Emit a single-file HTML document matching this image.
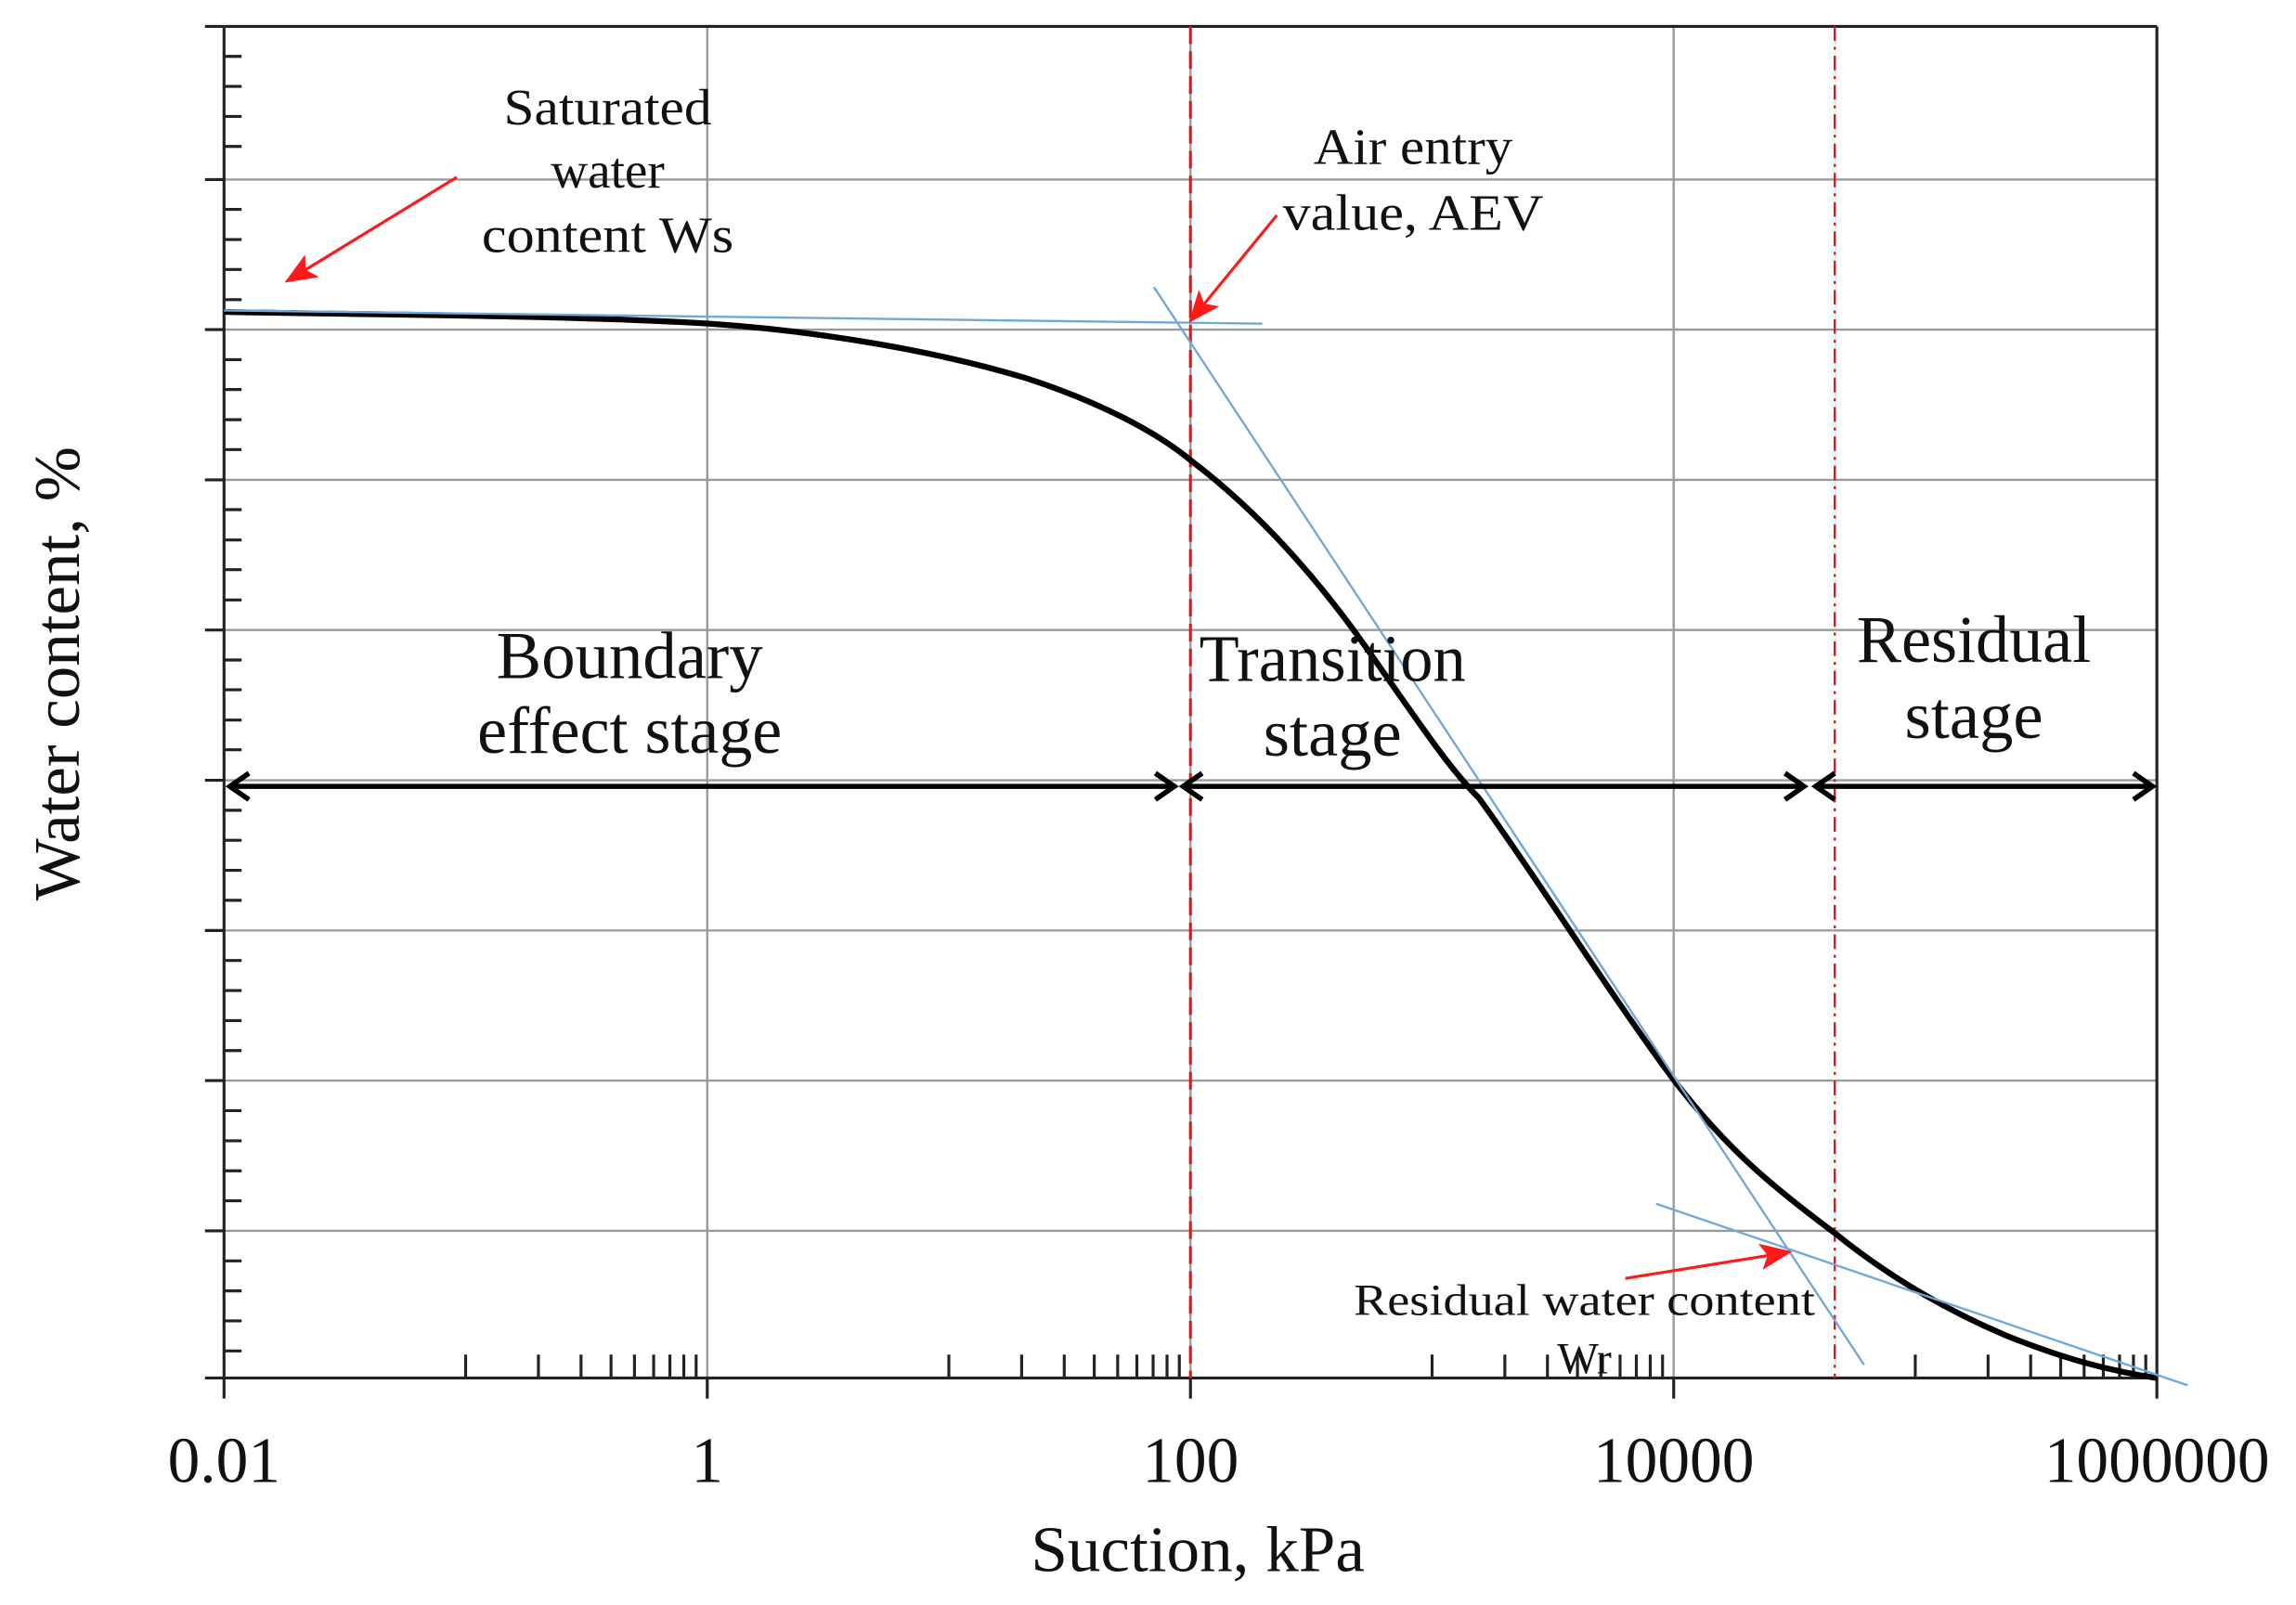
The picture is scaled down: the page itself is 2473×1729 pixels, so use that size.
<!DOCTYPE html>
<html><head><meta charset="utf-8"><style>html,body{margin:0;padding:0;background:#fff}svg{display:block}</style></head>
<body>
<svg width="2473" height="1729" viewBox="0 0 1568 1096" preserveAspectRatio="none" xmlns="http://www.w3.org/2000/svg" font-family="Liberation Serif, serif">
<defs>
<marker id="ra" markerWidth="22" markerHeight="18" refX="20" refY="9" orient="auto" markerUnits="userSpaceOnUse" viewBox="0 0 22 18"><path d="M0,0 L22,9 L0,18 L5,9 z" fill="#ff1a1a"/></marker>
</defs>
<g stroke="#9a9a9a" stroke-width="1.5">
<line x1="153" y1="122.6" x2="1473" y2="122.6"/><line x1="153" y1="225.1" x2="1473" y2="225.1"/><line x1="153" y1="327.7" x2="1473" y2="327.7"/><line x1="153" y1="430.2" x2="1473" y2="430.2"/><line x1="153" y1="532.8" x2="1473" y2="532.8"/><line x1="153" y1="635.4" x2="1473" y2="635.4"/><line x1="153" y1="737.9" x2="1473" y2="737.9"/><line x1="153" y1="840.5" x2="1473" y2="840.5"/>
<line x1="483" y1="18" x2="483" y2="941"/><line x1="813" y1="18" x2="813" y2="941"/><line x1="1143" y1="18" x2="1143" y2="941"/>
</g>
<g stroke="#222" stroke-width="2">
<line x1="153" y1="18" x2="1473" y2="18"/><line x1="1473" y1="18" x2="1473" y2="941"/>
<line x1="153" y1="18" x2="153" y2="941"/><line x1="140" y1="941" x2="1473" y2="941"/>
<path d="M140,18H153 M153,38.5H165 M153,59H165 M153,79.5H165 M153,100H165 M140,122.6H153 M153,143H165 M153,163.6H165 M153,184H165 M153,204.6H165 M140,225.1H153 M153,245.6H165 M153,266H165 M153,286.6H165 M153,307H165 M140,327.7H153 M153,348H165 M153,368.7H165 M153,389H165 M153,409.7H165 M140,430.2H153 M153,450.7H165 M153,471H165 M153,491.7H165 M153,512H165 M140,532.8H153 M153,553.3H165 M153,573.8H165 M153,594.3H165 M153,614.8H165 M140,635.4H153 M153,655.9H165 M153,676.4H165 M153,696.9H165 M153,717.4H165 M140,737.9H153 M153,758.4H165 M153,779H165 M153,799.5H165 M153,820H165 M140,840.5H153 M153,861H165 M153,881.5H165 M153,902H165 M153,922.5H165"/>
<path d="M153,941V955 M483,941V955 M813,941V955 M1143,941V955 M1473,941V955"/>
<path d="M318,941v-16 M367.7,941v-16 M396.8,941v-16 M417.3,941v-16 M433.3,941v-16 M446.4,941v-16 M457.5,941v-16 M467,941v-16 M475.4,941v-16
M648,941v-16 M697.7,941v-16 M726.8,941v-16 M747.3,941v-16 M763.3,941v-16 M776.4,941v-16 M787.5,941v-16 M797,941v-16 M805.4,941v-16
M978,941v-16 M1027.7,941v-16 M1056.8,941v-16 M1077.3,941v-16 M1093.3,941v-16 M1106.4,941v-16 M1117.5,941v-16 M1127,941v-16 M1135.4,941v-16
M1308,941v-16 M1357.7,941v-16 M1386.8,941v-16 M1407.3,941v-16 M1423.3,941v-16 M1436.4,941v-16 M1447.5,941v-16 M1457,941v-16 M1465.4,941v-16"/>
</g>
<line x1="813" y1="18" x2="813" y2="941" stroke="#e8141c" stroke-width="2" stroke-dasharray="12,5"/>
<line x1="1253" y1="18" x2="1253" y2="941" stroke="#e8141c" stroke-width="1.5" stroke-dasharray="10,4,2,4"/>
<path d="M153,213 C250,215 380,215 484,221 C560,226 640,240 700,258 C750,274 790,295 814,315 C860,350 900,395 935,445 C970,495 990,525 1010,545 C1050,600 1100,680 1145,740 C1180,785 1210,810 1253,842 C1290,872 1330,895 1370,912 C1410,928 1440,936 1473,941" fill="none" stroke="#000" stroke-width="4" stroke-linejoin="round"/>
<g stroke="#6fa8dc" stroke-width="1.5">
<line x1="153" y1="212" x2="862" y2="221"/>
<line x1="788" y1="196" x2="1273" y2="932"/>
<line x1="1131" y1="822" x2="1494" y2="946"/>
</g>
<g stroke="#ff1a1a" stroke-width="2" fill="none">
<line x1="312" y1="121" x2="196" y2="192" marker-end="url(#ra)"/>
<line x1="872" y1="147" x2="813" y2="219" marker-end="url(#ra)"/>
<line x1="1110" y1="873" x2="1222" y2="855" marker-end="url(#ra)"/>
</g>
<g stroke="#000" stroke-width="3.5" fill="none">
<line x1="158" y1="537" x2="800" y2="537"/>
<line x1="809" y1="537" x2="1230" y2="537"/>
<line x1="1241" y1="537" x2="1468" y2="537"/>
<path d="M170,528 L157,537 L170,546 M789,528 L802,537 L789,546 M821,528 L808,537 L821,546 M1219,528 L1232,537 L1219,546 M1253,528 L1240,537 L1253,546 M1457,528 L1470,537 L1457,546"/>
</g>
<g fill="#111" text-anchor="middle">
<text x="415" y="85" font-size="35" textLength="142" lengthAdjust="spacingAndGlyphs">Saturated</text>
<text x="415" y="128" font-size="35">water</text>
<text x="415" y="172" font-size="35" textLength="172" lengthAdjust="spacingAndGlyphs">content Ws</text>
<text x="965" y="112" font-size="35" textLength="136" lengthAdjust="spacingAndGlyphs">Air entry</text>
<text x="965" y="157" font-size="35" textLength="178" lengthAdjust="spacingAndGlyphs">value, AEV</text>
<text x="430" y="463" font-size="46" textLength="182" lengthAdjust="spacingAndGlyphs">Boundary</text>
<text x="430" y="514" font-size="46" textLength="208" lengthAdjust="spacingAndGlyphs">effect stage</text>
<text x="910" y="465" font-size="46" textLength="182" lengthAdjust="spacingAndGlyphs">Transition</text>
<text x="910" y="516" font-size="46">stage</text>
<text x="1348" y="452" font-size="46" textLength="160" lengthAdjust="spacingAndGlyphs">Residual</text>
<text x="1348" y="504" font-size="46">stage</text>
<text x="1082" y="898" font-size="30" textLength="315" lengthAdjust="spacingAndGlyphs">Residual water content</text>
<text x="1082" y="938" font-size="30">Wr</text>
<text x="153" y="1012" font-size="44">0.01</text>
<text x="483" y="1012" font-size="44">1</text>
<text x="813" y="1012" font-size="44">100</text>
<text x="1143" y="1012" font-size="44">10000</text>
<text x="1473" y="1012" font-size="44">1000000</text>
<text x="818" y="1073" font-size="44" textLength="228" lengthAdjust="spacingAndGlyphs">Suction, kPa</text>
<text transform="translate(54,460) rotate(-90)" font-size="44" textLength="310" lengthAdjust="spacingAndGlyphs">Water content, %</text>
</g>
</svg>
</body></html>
